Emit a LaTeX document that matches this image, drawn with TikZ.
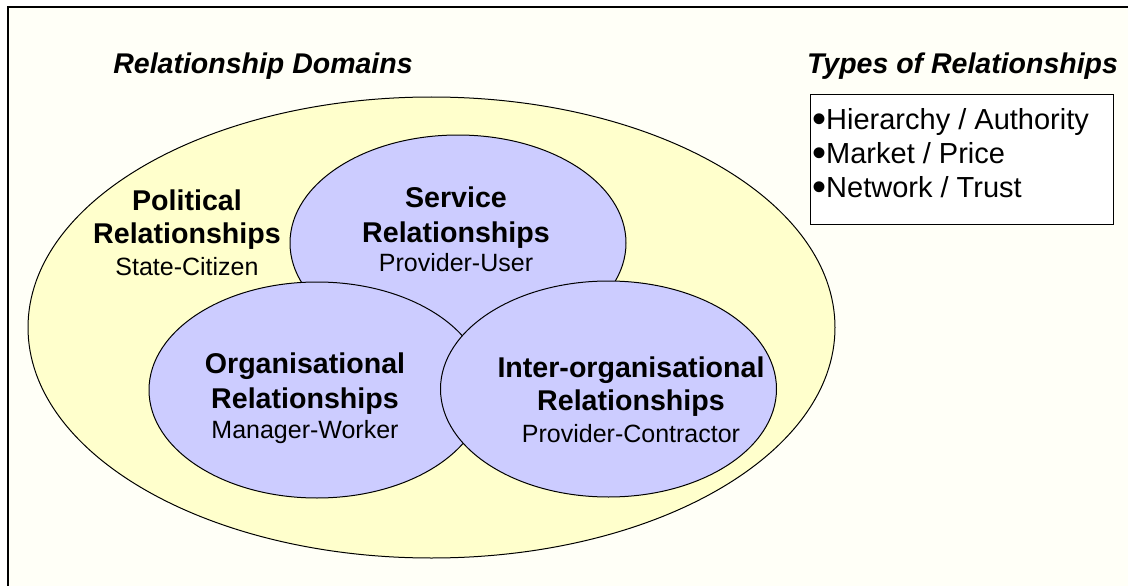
\documentclass[tikz,border=0pt]{standalone}
\usepackage{fontspec}
\setmainfont{Liberation Sans}
\usetikzlibrary{shapes.geometric}
\definecolor{bgcream}{HTML}{FFFFF7}
\definecolor{domyellow}{HTML}{FFFFCC}
\definecolor{lavender}{HTML}{CCCCFF}
\newcommand{\bigbul}{\smash{\raisebox{-3.5pt}{\fontsize{40}{34}\selectfont •}}}
\tikzset{
  domainell/.style={ellipse, draw=black, line width=1pt, fill=domyellow, inner sep=0pt, minimum width=807, minimum height=461},
  subell/.style={ellipse, draw=black, line width=1pt, fill=lavender, inner sep=0pt, minimum width=336, minimum height=216},
  ttltext/.style={anchor=base, inner sep=0pt, font=\fontsize{28.5}{34}\selectfont\bfseries\itshape},
  hdtext/.style={anchor=base, inner sep=0pt, font=\fontsize{28.6}{34}\selectfont\bfseries},
  sbtext/.style={anchor=base, inner sep=0pt, font=\fontsize{25}{30}\selectfont},
  ittext/.style={anchor=base west, inner sep=0pt, font=\fontsize{29}{34}\selectfont},
}
\begin{document}
\begin{tikzpicture}[x=1pt,y=-1pt]
\useasboundingbox (0,0) rectangle (1128,586);
\fill[bgcream] (8,7) rectangle (1128,586);
\draw[line width=2pt] (8,586) -- (8,7) -- (1128,7);
% titles
\node[ttltext] (t1) at (263,74) {Relationship Domains};
\node[ttltext] (t2) at (962.5,74) {Types of Relationships};
% types box
\node[draw=black, line width=1pt, fill=white, inner sep=0pt, minimum width=303, minimum height=130, anchor=north west] (box) at (810,94) {};
\node[ittext] (i1) at (812,129) {\bigbul Hierarchy / Authority};
\node[ittext] (i2) at (812,163) {\bigbul Market / Price};
\node[ittext] (i3) at (812,197) {\bigbul Network / Trust};
% domain ellipse
\node[domainell] (dom) at (431.5,327.5) {};
\node[hdtext] (p1) at (187,210) {Political};
\node[hdtext] (p2) at (187,243) {Relationships};
\node[sbtext] (p3) at (187,275) {State-Citizen};
% sub-ellipses
\node[subell] (svc) at (458,243) {};
\node[subell] (org) at (317,390) {};
\node[subell] (inter) at (608.5,389) {};
\node[hdtext] (s1) at (456,207) {Service};
\node[hdtext] (s2) at (456,242) {Relationships};
\node[sbtext] (s3) at (456,271) {Provider-User};
\node[hdtext] (o1) at (305,373) {Organisational};
\node[hdtext] (o2) at (305,408) {Relationships};
\node[sbtext] (o3) at (305,438) {Manager-Worker};
\node[hdtext] (n1) at (631,377) {Inter-organisational};
\node[hdtext] (n2) at (631,410) {Relationships};
\node[sbtext] (n3) at (631,442) {Provider-Contractor};
\end{tikzpicture}
\end{document}
